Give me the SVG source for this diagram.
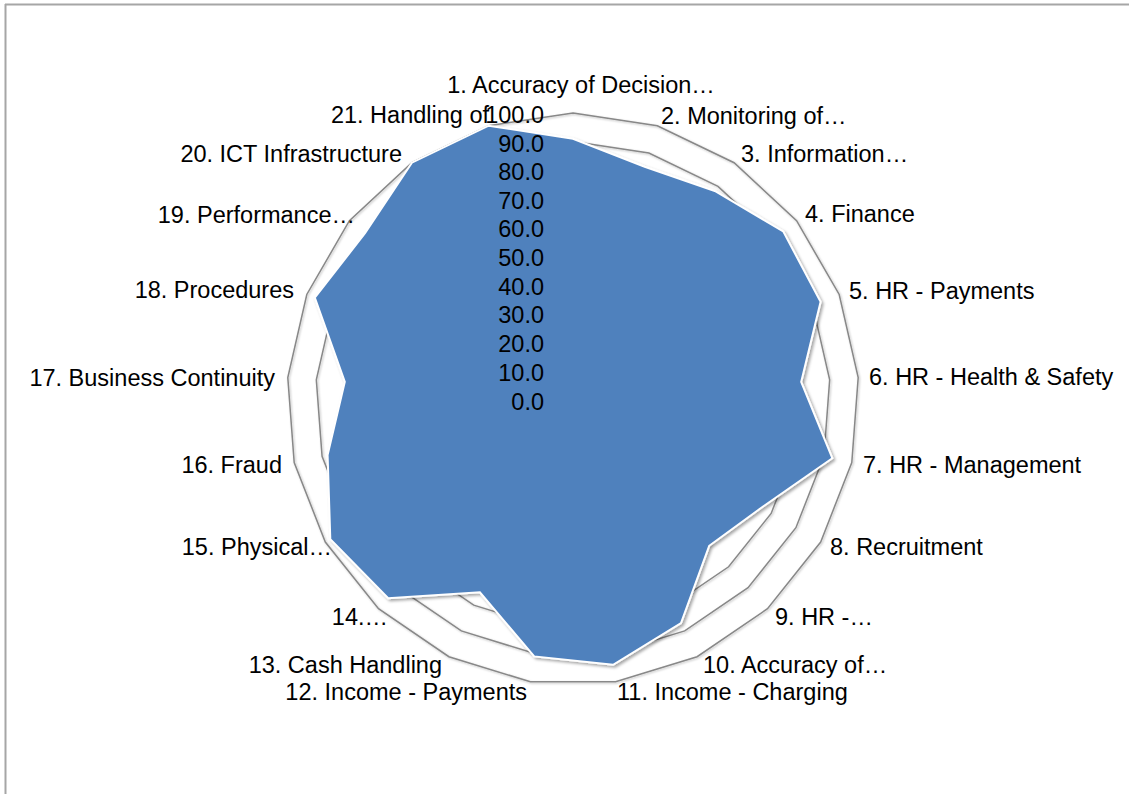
<svg xmlns="http://www.w3.org/2000/svg" xmlns:xlink="http://www.w3.org/1999/xlink" width="1129" height="794" viewBox="0 0 1129 794">
<style>
.lbl{font-family:"Liberation Sans",Arial,sans-serif;font-size:23.5px;fill:#000}
.tick{font-family:"Liberation Sans",Arial,sans-serif;font-size:23.5px;fill:#000;text-anchor:end}
.ring{fill:none;stroke:#888;stroke-width:1.5;vector-effect:non-scaling-stroke}
.s{text-anchor:start}.e{text-anchor:end}.m{text-anchor:middle}
</style>
<defs>
<polygon id="ringShape" class="ring" points="0,-286 84.3,-273.3 161.1,-236.3 223.6,-178.3 266.2,-104.5 285.2,-21.4 278.8,63.6 247.7,143 194.5,209.7 124.1,257.7 42.6,282.8 -42.6,282.8 -124.1,257.7 -194.5,209.7 -247.7,143 -278.8,63.6 -285.2,-21.4 -266.2,-104.5 -223.6,-178.3 -161.1,-236.3 -84.3,-273.3"/>
<filter id="shadow" x="-10%" y="-10%" width="120%" height="120%">
<feDropShadow dx="2" dy="2" stdDeviation="1.8" flood-color="#000" flood-opacity="0.35"/>
</filter>
<filter id="gshadow" x="-10%" y="-10%" width="120%" height="120%">
<feDropShadow dx="1" dy="1" stdDeviation="0.8" flood-color="#000" flood-opacity="0.25"/>
</filter>
</defs>
<rect x="0" y="0" width="1129" height="794" fill="#fff"/>
<g id="frame" stroke="#a6a6a6" stroke-width="2" fill="none">
<line x1="5" y1="4.5" x2="1129" y2="4.5"/>
<line x1="5.5" y1="4" x2="5.5" y2="794"/>
</g>
<g id="grid" filter="url(#gshadow)">
<use xlink:href="#ringShape" transform="translate(573 399) scale(1)"/>
<use xlink:href="#ringShape" transform="translate(573 399) scale(0.9)"/>
<use xlink:href="#ringShape" transform="translate(573 399) scale(0.8)"/>
<use xlink:href="#ringShape" transform="translate(573 399) scale(0.7)"/>
<use xlink:href="#ringShape" transform="translate(573 399) scale(0.6)"/>
<use xlink:href="#ringShape" transform="translate(573 399) scale(0.5)"/>
<use xlink:href="#ringShape" transform="translate(573 399) scale(0.4)"/>
<use xlink:href="#ringShape" transform="translate(573 399) scale(0.3)"/>
<use xlink:href="#ringShape" transform="translate(573 399) scale(0.2)"/>
<use xlink:href="#ringShape" transform="translate(573 399) scale(0.1)"/>
</g>
<g id="series">
<polygon filter="url(#shadow)" fill="#4f81bd" stroke="#fff" stroke-width="2" stroke-linejoin="miter" points="573,138.7 644.7,166.7 714.8,191 783.2,231.4 820.6,301.8 801.2,381.9 832.3,458.2 761.3,507.7 709.2,545.8 681,623.2 613.1,664.8 534.2,656.4 479.9,592.3 388.2,598.2 330.3,539.1 327.6,455 344.8,381.9 314.8,297.7 365,233.2 411.9,162.7 488.7,125.7"/>
</g>
<g id="ticks">
<text class="tick" x="544" y="122.5">100.0</text>
<text class="tick" x="544" y="151.5">90.0</text>
<text class="tick" x="544" y="180">80.0</text>
<text class="tick" x="544" y="208.5">70.0</text>
<text class="tick" x="544" y="237">60.0</text>
<text class="tick" x="544" y="265.5">50.0</text>
<text class="tick" x="544" y="294.5">40.0</text>
<text class="tick" x="544" y="323">30.0</text>
<text class="tick" x="544" y="352">20.0</text>
<text class="tick" x="544" y="381">10.0</text>
<text class="tick" x="544" y="410">0.0</text>
</g>
<g id="labels">
<text class="lbl m" x="581" y="93">1. Accuracy of Decision…</text>
<text class="lbl s" x="661" y="124">2. Monitoring of…</text>
<text class="lbl s" x="741" y="162">3. Information…</text>
<text class="lbl s" x="805" y="222">4. Finance</text>
<text class="lbl s" x="849" y="299">5. HR - Payments</text>
<text class="lbl s" x="869" y="385">6. HR - Health &amp; Safety</text>
<text class="lbl s" x="863" y="473">7. HR - Management</text>
<text class="lbl s" x="830" y="555">8. Recruitment</text>
<text class="lbl s" x="775" y="625">9. HR -…</text>
<text class="lbl s" x="703" y="673">10. Accuracy of…</text>
<text class="lbl s" x="617" y="700">11. Income - Charging</text>
<text class="lbl e" x="527" y="700">12. Income - Payments</text>
<text class="lbl e" x="442" y="673">13. Cash Handling</text>
<text class="lbl e" x="388" y="625">14.…</text>
<text class="lbl e" x="332" y="555">15. Physical…</text>
<text class="lbl e" x="282" y="473">16. Fraud</text>
<text class="lbl e" x="275" y="386">17. Business Continuity</text>
<text class="lbl e" x="294" y="298">18. Procedures</text>
<text class="lbl e" x="355" y="223">19. Performance…</text>
<text class="lbl e" x="402" y="162">20. ICT Infrastructure</text>
<text class="lbl e" x="489" y="123">21. Handling of</text>
</g>
</svg>
